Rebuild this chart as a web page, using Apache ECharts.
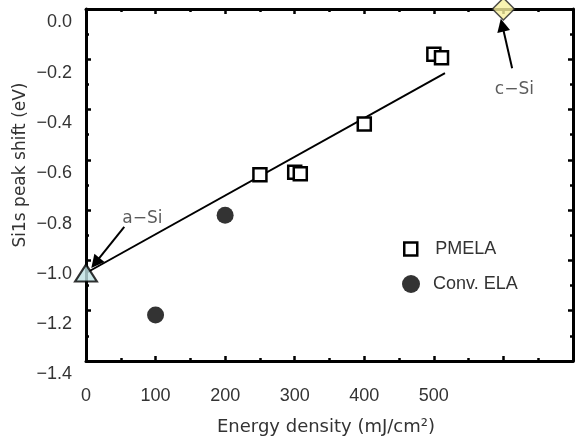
<!DOCTYPE html>
<html><head><meta charset="utf-8">
<script src="https://cdn.jsdelivr.net/npm/echarts@6/dist/echarts.min.js"></script>
<style>html,body{margin:0;padding:0;background:#fff}#c{width:576px;height:439px}</style>
</head><body><div id="c"></div>
<script>
// ---- data ----
const xTickLabels = [0, 100, 200, 300, 400, 500];
const pmelaData = [[250, -0.659], [300, -0.649], [308, -0.655], [400, -0.457], [500, -0.180], [511, -0.194]];
const convData = [[100, -1.217], [200, -0.820]];
const aSiPoint = [[0, -1.05]];
const cSiPoint = [[600, 0.0]];
const fitLine = [[0, -1.05], [516, -0.255]];
const aSiArrow = [[55, -0.867], [13.5, -1.01]];
const cSiArrow = [[612.5, -0.236], [598.3, -0.064]];
const aSiLabel = [81, -0.835];
const cSiLabel = [615.8, -0.322];

const FONT = 'Liberation Sans, Arial, sans-serif';
const FONT2 = 'DejaVu Sans, sans-serif';
const TXT = '#333';
const fmtY = v => (Math.abs(v) < 1e-9 ? '0.0' : v.toFixed(1).replace('-', '\u2212'));

const chart = echarts.init(document.getElementById('c'), null, {renderer: 'canvas'});
const axisLine = {show: true, onZero: false, lineStyle: {color: '#000', width: 3}};
const tick = {show: true, inside: true, length: 5, lineStyle: {color: '#000', width: 2.5}};
const minor = {show: true, splitNumber: 2, length: 3, lineStyle: {color: '#000', width: 2.5}};

chart.setOption({
  animation: false,
  backgroundColor: '#fff',
  textStyle: {fontFamily: FONT},
  grid: {left: 86, right: -2, top: 9, bottom: 78, containLabel: false},
  xAxis: [
    {type: 'value', min: 0, max: 700, interval: 100, position: 'bottom',
     axisLine, axisTick: tick, minorTick: minor, splitLine: {show: false},
     axisLabel: {margin: 26, fontSize: 18, color: TXT, fontFamily: FONT,
       formatter: v => (xTickLabels.indexOf(v) >= 0 ? String(v) : '')}},
    {type: 'value', min: 0, max: 700, interval: 100, position: 'top',
     axisLine, axisTick: tick, minorTick: minor, splitLine: {show: false},
     axisLabel: {show: false}}
  ],
  yAxis: [
    {type: 'value', min: -1.4, max: 0, interval: 0.2, position: 'left',
     axisLine, axisTick: tick, minorTick: minor, splitLine: {show: false},
     axisLabel: {margin: 14, fontSize: 18, color: TXT, fontFamily: FONT,
       verticalAlign: 'top', lineHeight: 27, formatter: fmtY}},
    {type: 'value', min: -1.4, max: 0, interval: 0.2, position: 'right',
     axisLine, axisTick: tick, minorTick: minor, splitLine: {show: false},
     axisLabel: {show: false}}
  ],
  legend: [
    {data: ['PMELA'], left: 403, top: 240, padding: 0, orient: 'vertical', icon: 'rect',
     itemWidth: 13, itemHeight: 13,
     itemStyle: {color: '#fff', borderColor: '#000', borderWidth: 2.5},
     textStyle: {fontSize: 18, color: TXT, fontFamily: FONT, padding: [0, 0, 0, 13]}},
    {data: ['Conv. ELA'], left: 402, top: 275, padding: 0, orient: 'vertical', icon: 'circle',
     itemWidth: 18, itemHeight: 18,
     textStyle: {fontSize: 18, color: TXT, fontFamily: FONT, padding: [0, 0, 0, 8]}}
  ],
  graphic: [
    {type: 'text', x: 21, y: 165, rotation: Math.PI / 2,
     style: {text: 'Si1s peak shift (eV)', fontSize: 17, fill: TXT, fontFamily: FONT2,
       textAlign: 'center', textVerticalAlign: 'middle'}},
    {type: 'text', x: 326, y: 427,
     style: {text: 'Energy density (mJ/cm\u00B2)', fontSize: 18, fill: TXT, fontFamily: FONT2,
       textAlign: 'center', textVerticalAlign: 'middle'}}
  ],
  series: [
    {name: 'fit', type: 'line', data: fitLine, showSymbol: false, symbol: 'none',
     lineStyle: {color: '#000', width: 2}, z: 2, silent: true,
     markLine: {silent: true, symbol: ['none', 'triangle'], symbolSize: 13,
       lineStyle: {color: '#000', width: 2, type: 'solid'}, label: {show: false},
       itemStyle: {color: '#000'},
       data: [
         [{coord: aSiArrow[0]}, {coord: aSiArrow[1]}],
         [{coord: cSiArrow[0]}, {coord: cSiArrow[1]}]
       ]}},
    {name: 'PMELA', type: 'scatter', data: pmelaData, symbol: 'rect', symbolSize: 13,
     itemStyle: {color: '#fff', borderColor: '#000', borderWidth: 2.5, opacity: 1}, z: 3, clip: false},
    {name: 'Conv. ELA', type: 'scatter', data: convData, symbol: 'circle', symbolSize: 17,
     itemStyle: {color: '#000'}, z: 3, clip: false},
    {name: 'a-Si', type: 'scatter', data: aSiPoint, symbol: 'triangle', symbolSize: [22, 17],
     itemStyle: {color: '#bfe2e4', borderColor: '#000', borderWidth: 2}, z: 5, clip: false},
    {name: 'c-Si', type: 'scatter', data: cSiPoint, symbol: 'diamond', symbolSize: [22, 22],
     itemStyle: {color: '#f7f09e', borderColor: '#222', borderWidth: 1.5}, z: 5, clip: false},
    {name: 'labels', type: 'scatter', symbolSize: 0, silent: true, clip: false,
     data: [{value: aSiLabel, name: 'a\u2212Si'}, {value: cSiLabel, name: 'c\u2212Si'}],
     label: {show: true, position: 'inside', formatter: p => p.name, fontSize: 17,
       color: TXT, fontFamily: FONT2}}
  ]
});
</script></body></html>
